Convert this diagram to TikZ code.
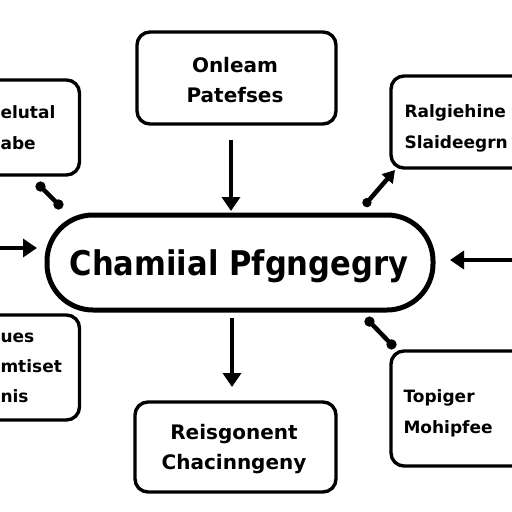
\documentclass[tikz,border=0pt]{standalone}
\usepackage{fontspec}
\setmainfont{DejaVu Sans}
\usetikzlibrary{arrows.meta}
\begin{document}
\begin{tikzpicture}[x=1pt,y=-1pt,
  box/.style={draw=black,line width=3.4pt,rounded corners=13pt,fill=white},
  lab/.style={font=\bfseries\fontsize{20}{30}\selectfont,align=center},
  slab/.style={font=\bfseries\fontsize{17}{31}\selectfont,align=left},
  arr/.style={line width=4pt,-{Triangle[length=14pt,width=18pt]}},
  bone/.style={line width=4.5pt,{Circle[length=10pt]}-{Circle[length=10pt]}},
]
\useasboundingbox (0,0) rectangle (512,512);
\fill[white] (0,0) rectangle (512,512);
\clip (0,0) rectangle (512,512);
% boxes
\node[box,minimum width=199pt,minimum height=92pt] (top) at (236.5,78) {};
\node[lab] (toptxt) at (235,80) {Onleam\\Patefses};
\node[box,minimum width=125pt,minimum height=95pt] (tl) at (17,127.5) {};
\node[slab,anchor=west] (tltxt) at (-3,128) {elutal\\abe};
\node[box,minimum width=140pt,minimum height=92pt] (tr) at (461,122) {};
\node[slab,anchor=west] (trtxt) at (401,128) {Ralgiehine\\Slaideegrn};
\node[box,minimum width=125pt,minimum height=105pt] (bl) at (17,367.5) {};
\node[slab,anchor=west,font=\bfseries\fontsize{17}{30}\selectfont] (bltxt) at (-3,368) {ues\\mtiset\\nis};
\node[box,minimum width=140pt,minimum height=115pt] (br) at (461,408.5) {};
\node[slab,anchor=west] (brtxt) at (400,413) {Topiger\\Mohipfee};
\node[box,minimum width=201pt,minimum height=90pt] (bot) at (235.5,447) {};
\node[lab] (bottxt) at (234,449) {Reisgonent\\Chacinngeny};
% center
\node[draw=black,line width=5pt,rounded corners=46pt,minimum width=386pt,minimum height=95pt,fill=white] (c) at (240,262.5) {};
\node[font=\bfseries\fontsize{34}{34}\selectfont] (ctxt) at (239,266) {\scalebox{0.9}[1]{Chamiial Pfgngegry}};
% connector ends
\coordinate (a1) at (231,140); \coordinate (a2) at (231,211);
\coordinate (b1) at (232,318); \coordinate (b2) at (232,387);
\coordinate (l1) at (0,248); \coordinate (l2) at (37,248);
\coordinate (r1) at (512,260); \coordinate (r2) at (450,260);
\coordinate (d1) at (37,183); \coordinate (d2) at (62,208);
\coordinate (e1) at (364,206); \coordinate (e2) at (395,170);
\coordinate (f1) at (366,318); \coordinate (f2) at (395,348);
\draw[arr] (a1) -- (a2);
\draw[arr] (b1) -- (b2);
\draw[arr] (l1) -- (l2);
\draw[arr] (r1) -- (r2);
\draw[bone] (d1) -- (d2);
\draw[line width=4.5pt,{Circle[length=9pt]}-{Triangle[length=12pt,width=14pt]}] (e1) -- (e2);
\draw[bone] (f1) -- (f2);
\end{tikzpicture}
\end{document}
